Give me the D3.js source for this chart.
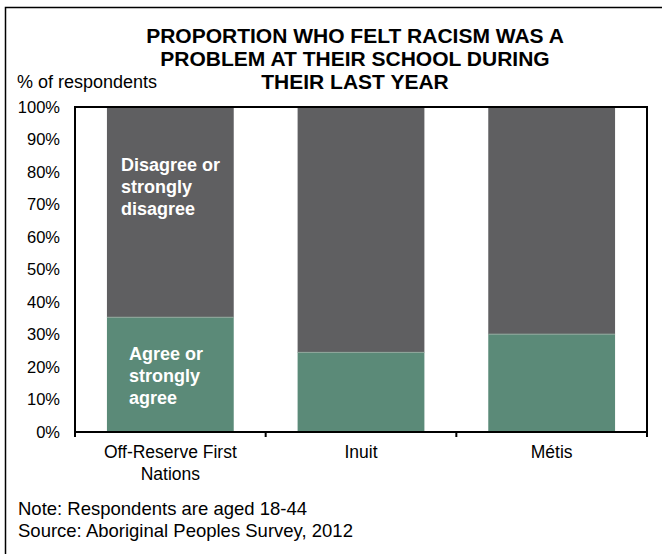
<!DOCTYPE html>
<html><head><meta charset="utf-8">
<script src="https://cdn.jsdelivr.net/npm/d3@7"></script>
<style>body{margin:0;background:#fff}svg{display:block;font-family:"Liberation Sans",Arial,sans-serif}</style>
</head><body><svg id="c" width="662" height="554"></svg>
<script>
const categories = [["Off-Reserve First","Nations"],["Inuit"],["Métis"]];
const agree = [35.3, 24.5, 30.1];
const disagree = [64.7, 75.5, 69.9];
const yTicks = [0,10,20,30,40,50,60,70,80,90,100];
const titleLines = ["PROPORTION WHO FELT RACISM WAS A","PROBLEM AT THEIR SCHOOL DURING","THEIR LAST YEAR"];
const agreeLabel = ["Agree or","strongly","agree"];
const disagreeLabel = ["Disagree or","strongly","disagree"];
const notes = ["Note: Respondents are aged 18-44","Source: Aboriginal Peoples Survey, 2012"];

const svg = d3.select("#c");
const L=75, R=647, T=107, B=432;
svg.append("rect").attr("x",5.5).attr("y",7.5).attr("width",700).attr("height",600)
  .attr("fill","none").attr("stroke","#000").attr("stroke-width",1.5);

const x = d3.scaleBand().domain(d3.range(categories.length)).range([L,R]).paddingInner(0.335).paddingOuter(0.1675);
const y = d3.scaleLinear().domain([0,100]).range([B,T]);

const data = categories.map((c,i)=>({i, a:agree[i], d:disagree[i]}));
const g = svg.append("g");
g.selectAll(".ag").data(data).join("rect").attr("x",d=>x(d.i)).attr("width",x.bandwidth())
  .attr("y",d=>y(d.a)).attr("height",d=>y(0)-y(d.a)).attr("fill","#5b8a78");
g.selectAll(".dg").data(data).join("rect").attr("x",d=>x(d.i)).attr("width",x.bandwidth())
  .attr("y",d=>y(d.a+d.d)).attr("height",d=>y(d.a)-y(d.a+d.d)).attr("fill","#5f5f61");
g.selectAll(".sep").data(data).join("line").attr("x1",d=>x(d.i)).attr("x2",d=>x(d.i)+x.bandwidth())
  .attr("y1",d=>y(d.a)).attr("y2",d=>y(d.a)).attr("stroke","#8fa89d").attr("stroke-width",1);

// plot box
svg.append("rect").attr("x",L).attr("y",T).attr("width",R-L).attr("height",B-T)
  .attr("fill","none").attr("stroke","#000").attr("stroke-width",2);

// x ticks at band boundaries
const step = x.step();
const bounds = d3.range(categories.length+1).map(k=>L+k*step);
svg.selectAll(".xt").data(bounds).join("line").attr("x1",d=>d).attr("x2",d=>d)
  .attr("y1",B).attr("y2",B+5).attr("stroke","#000").attr("stroke-width",2);

// y tick labels
svg.selectAll(".yl").data(yTicks).join("text").attr("x",60).attr("y",d=>y(d)).attr("dy","0.35em")
  .attr("text-anchor","end").attr("font-size",16.5).attr("fill","#000").text(d=>d+"%");

// category labels
categories.forEach((c,i)=>{
  c.forEach((line,j)=>{
    svg.append("text").attr("x",x(i)+x.bandwidth()/2).attr("y",452+j*22).attr("dy","0.35em")
      .attr("text-anchor","middle").attr("font-size",17.5).text(line);
  });
});

// title
titleLines.forEach((t,j)=>{
  svg.append("text").attr("x",355).attr("y",36+j*23).attr("dy","0.35em").attr("text-anchor","middle")
    .attr("font-size",21).attr("font-weight","bold").text(t);
});
svg.append("text").attr("x",17).attr("y",82).attr("dy","0.35em").attr("font-size",18).text("% of respondents");

// in-bar labels
disagreeLabel.forEach((t,j)=>{
  svg.append("text").attr("x",121).attr("y",165+j*22).attr("dy","0.35em").attr("fill","#fff")
    .attr("font-size",18).attr("font-weight","bold").text(t);
});
agreeLabel.forEach((t,j)=>{
  svg.append("text").attr("x",129).attr("y",354+j*22).attr("dy","0.35em").attr("fill","#fff")
    .attr("font-size",18).attr("font-weight","bold").text(t);
});

notes.forEach((t,j)=>{
  svg.append("text").attr("x",18).attr("y",509+j*22).attr("dy","0.35em").attr("font-size",18.5).text(t);
});
</script></body></html>
